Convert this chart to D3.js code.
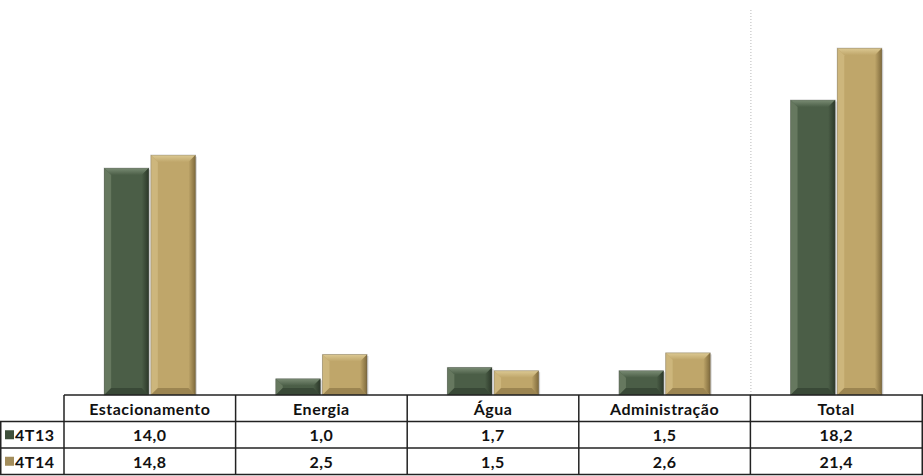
<!doctype html>
<html>
<head>
<meta charset="utf-8">
<style>
  body { margin: 0; background: #fff; }
  svg { display: block; font-family: "Lato", "Noto Sans", sans-serif; }
</style>
</head>
<body>
<script src="https://cdn.jsdelivr.net/npm/d3@7"></script>
<svg id="chart" width="923" height="476"></svg>
<script>
const categories = ['Estacionamento', 'Energia', 'Água', 'Administração', 'Total'];
const seriesNames = ['4T13', '4T14'];
const values4T13 = [14.0, 1.0, 1.7, 1.5, 18.2];
const values4T14 = [14.8, 2.5, 1.5, 2.6, 21.4];
const labels4T13 = ['14,0', '1,0', '1,7', '1,5', '18,2'];
const labels4T14 = ['14,8', '2,5', '1,5', '2,6', '21,4'];

const colors = [
  { base: '#4b5e47', light: '#66785f', top: '#7a8c74', dark: '#2c3829', key: '#3d4f3a' },
  { base: '#bfa66a', light: '#cdb67c', top: '#dcc993', dark: '#7f6a3c', key: '#a38d5b' }
];

const svg = d3.select('#chart');
const defs = svg.append('defs');
const width = 923;
const tableLeft = 64;
const baseY = 395;
const rowH = 26.5;

const x = d3.scaleBand()
  .domain(categories)
  .range([tableLeft, width - 1])
  .paddingInner(0)
  .paddingOuter(0);

const x1 = d3.scaleBand()
  .domain(seriesNames)
  .range([0, x.bandwidth()])
  .paddingOuter(0.86)
  .paddingInner(0.045);

const y = d3.scaleLinear().domain([0, 24]).range([baseY, 6]);

const data = categories.map((c, i) => ({
  cat: c,
  vals: [values4T13[i], values4T14[i]]
}));

// side gradients for each series
colors.forEach((c, si) => {
  const gr = defs.append('linearGradient').attr('id', 'side' + si)
    .attr('x1', 0).attr('x2', 1).attr('y1', 0).attr('y2', 0);
  gr.append('stop').attr('offset', 0).attr('stop-color', c.base);
  gr.append('stop').attr('offset', 1).attr('stop-color', c.dark);
  const gt = defs.append('linearGradient').attr('id', 'top' + si)
    .attr('x1', 0).attr('x2', 0).attr('y1', 0).attr('y2', 1);
  gt.append('stop').attr('offset', 0).attr('stop-color', c.top);
  gt.append('stop').attr('offset', 1).attr('stop-color', c.base);
});

// dotted separator before Total
svg.append('line')
  .attr('x1', x('Total') + 0.5).attr('x2', x('Total') + 0.5)
  .attr('y1', 10).attr('y2', baseY)
  .attr('stroke', '#b8b8b8')
  .attr('stroke-dasharray', '1,2');

// bevelled bars
const bev = 7;
const groups = svg.selectAll('g.cat')
  .data(data)
  .join('g')
  .attr('class', 'cat')
  .attr('transform', d => `translate(${x(d.cat)},0)`);

groups.each(function (d) {
  const g = d3.select(this);
  d.vals.forEach((v, si) => {
    const c = colors[si];
    const x0 = x1(seriesNames[si]);
    const w = x1.bandwidth();
    const y0 = y(v);
    const h = baseY - y0;
    const b = Math.min(bev, h / 2);
    const bar = g.append('g');
    // shadow
    bar.append('rect')
      .attr('x', x0 + 1.5).attr('y', y0 + 1.5)
      .attr('width', w).attr('height', h - 1.5)
      .attr('fill', '#000').attr('opacity', 0.15);
    bar.append('rect')
      .attr('x', x0).attr('y', y0)
      .attr('width', w).attr('height', h)
      .attr('fill', c.base);
    const x2 = x0 + w, y2 = baseY;
    // top bevel
    bar.append('polygon')
      .attr('points', [[x0, y0], [x2, y0], [x2 - b, y0 + b], [x0 + b, y0 + b]].join(' '))
      .attr('fill', `url(#top${si})`);
    // left bevel
    bar.append('polygon')
      .attr('points', [[x0, y0], [x0 + b, y0 + b], [x0 + b, y2 - b], [x0, y2]].join(' '))
      .attr('fill', c.light);
    // right bevel
    bar.append('polygon')
      .attr('points', [[x2, y0], [x2, y2], [x2 - b, y2 - b], [x2 - b, y0 + b]].join(' '))
      .attr('fill', `url(#side${si})`);
    // bottom bevel
    bar.append('polygon')
      .attr('points', [[x0, y2], [x2, y2], [x2 - b, y2 - b], [x0 + b, y2 - b]].join(' '))
      .attr('fill', c.dark).attr('opacity', 0.55);
    bar.append('rect')
      .attr('x', x0).attr('y', y0)
      .attr('width', w).attr('height', h)
      .attr('fill', 'none').attr('stroke', '#555').attr('stroke-opacity', 0.3);
  });
});

// data table
const table = svg.append('g');
const lineColor = '#222';
const rowsY = [baseY, baseY + rowH, baseY + 2 * rowH, baseY + 3 * rowH];

table.append('line')
  .attr('x1', tableLeft).attr('x2', width).attr('y1', rowsY[0]).attr('y2', rowsY[0])
  .attr('stroke', lineColor).attr('stroke-width', 1.5);
[1, 2, 3].forEach(i => {
  table.append('line')
    .attr('x1', 0).attr('x2', width).attr('y1', rowsY[i]).attr('y2', rowsY[i])
    .attr('stroke', lineColor).attr('stroke-width', 1.5);
});
table.append('line')
  .attr('x1', 0.75).attr('x2', 0.75).attr('y1', rowsY[1]).attr('y2', rowsY[3])
  .attr('stroke', lineColor).attr('stroke-width', 1.5);
categories.forEach(c => {
  table.append('line')
    .attr('x1', x(c)).attr('x2', x(c)).attr('y1', rowsY[0]).attr('y2', rowsY[3])
    .attr('stroke', lineColor).attr('stroke-width', 1.5);
});
table.append('line')
  .attr('x1', width - 0.75).attr('x2', width - 0.75).attr('y1', rowsY[0]).attr('y2', rowsY[3])
  .attr('stroke', lineColor).attr('stroke-width', 1.5);

const textStyle = sel => sel
  .attr('font-size', 16).attr('font-weight', 700).attr('fill', '#111')
  .attr('letter-spacing', 0.5)
  .attr('dominant-baseline', 'central');

table.selectAll('text.head')
  .data(categories)
  .join('text')
  .attr('class', 'head')
  .attr('x', d => x(d) + x.bandwidth() / 2)
  .attr('y', rowsY[0] + rowH / 2)
  .attr('text-anchor', 'middle')
  .call(textStyle)
  .text(d => d);

[labels4T13, labels4T14].forEach((labels, si) => {
  const ry = rowsY[si + 1] + rowH / 2;
  table.selectAll('text.v' + si)
    .data(labels)
    .join('text')
    .attr('class', 'v' + si)
    .attr('x', (d, i) => x(categories[i]) + x.bandwidth() / 2)
    .attr('y', ry)
    .attr('text-anchor', 'middle')
    .call(textStyle)
    .text(d => d);
  table.append('rect')
    .attr('x', 5).attr('y', ry - 4.5)
    .attr('width', 9).attr('height', 9)
    .attr('fill', colors[si].key);
  table.append('text')
    .attr('x', 15).attr('y', ry)
    .call(textStyle)
    .text(seriesNames[si]);
});
</script>
</body>
</html>
